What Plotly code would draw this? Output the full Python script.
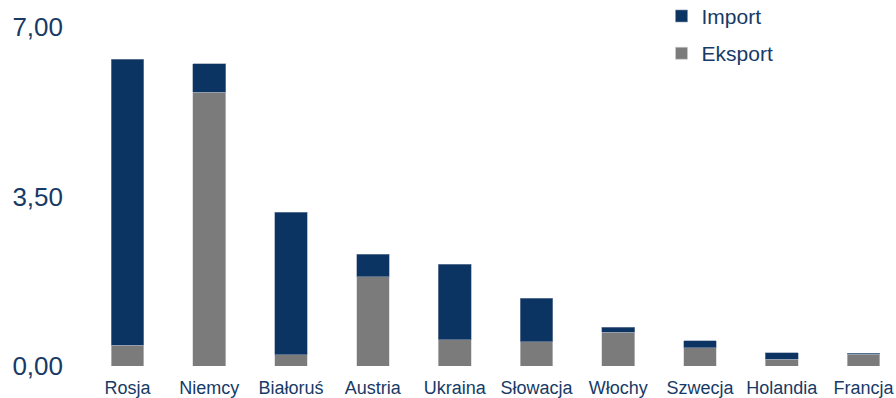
import plotly.graph_objects as go

countries = ["Rosja", "Niemcy", "Białoruś", "Austria", "Ukraina",
             "Słowacja", "Włochy", "Szwecja", "Holandia", "Francja"]
eksport = [0.43, 5.65, 0.23, 1.84, 0.54, 0.50, 0.70, 0.38, 0.14, 0.24]
importy = [5.90, 0.59, 2.94, 0.47, 1.56, 0.90, 0.10, 0.14, 0.13, 0.02]
y_ticks = [0.0, 3.5, 7.0]
y_tick_text = ["0,00", "3,50", "7,00"]

NAVY = "#0b3463"
GREY = "#7b7b7b"
TEXT = "#173a66"
FONT = "Liberation Sans, Arial, sans-serif"

fig = go.Figure()
fig.add_trace(go.Bar(
    x=countries, y=eksport, name="Eksport", legendgroup="e", legendrank=2,
    marker=dict(color=GREY, line=dict(color="#c9cdd4", width=0.6)),
    width=0.4,
))
fig.add_trace(go.Bar(
    x=countries, y=importy, name="Import", legendgroup="i", legendrank=1,
    marker=dict(color=NAVY, line=dict(color="#8796ad", width=0.6)),
    width=0.4,
))

fig.update_layout(
    barmode="stack",
    width=896, height=398,
    margin=dict(l=66, r=0, t=27, b=32, autoexpand=False),
    plot_bgcolor="white", paper_bgcolor="white",
    font=dict(family=FONT, color=TEXT),
    legend=dict(
        x=0.7175, y=1.092, xanchor="left", yanchor="top",
        traceorder="grouped", tracegroupgap=7,
        font=dict(size=21, color=TEXT, family=FONT),
        bgcolor="rgba(0,0,0,0)",
    ),
    xaxis=dict(
        range=[-0.752, 9.396], showgrid=False, zeroline=False,
        showline=False, ticks="", tickfont=dict(size=18, color=TEXT),
        ticklabelstandoff=9, fixedrange=True,
    ),
    yaxis=dict(
        range=[0, 7], tickvals=y_ticks, ticktext=y_tick_text,
        showgrid=False, zeroline=False, showline=False, ticks="",
        tickfont=dict(size=26, color=TEXT), ticklabelstandoff=2,
        fixedrange=True,
    ),
)

fig.write_html("out.html")
